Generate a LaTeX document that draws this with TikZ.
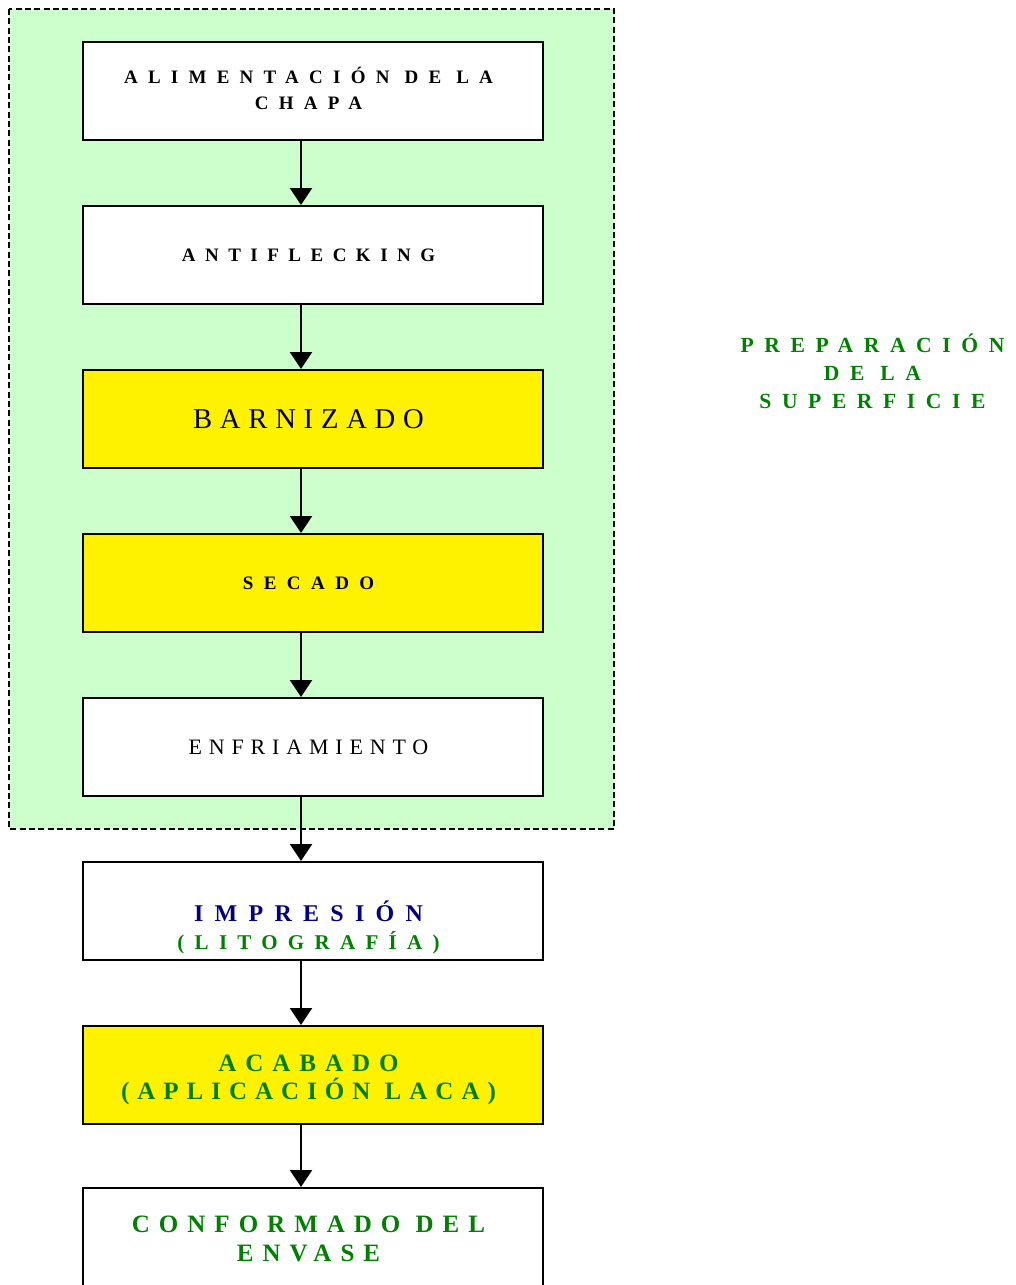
\documentclass[tikz,border=0pt]{standalone}
\usepackage{fontspec}
\setmainfont{Liberation Serif}
\usetikzlibrary{arrows.meta}

\definecolor{prepgreen}{RGB}{204,255,204}
\definecolor{textgreen}{RGB}{0,128,0}
\definecolor{textnavy}{RGB}{0,0,128}

% letter-spaced fonts: [baselineskip]{size}{spacing}
\newcommand{\spacedbf}[3][21pt]{\bfseries\fontsize{#2}{#1}\selectfont\addfontfeature{LetterSpace=#3}}
\newcommand{\spacedrm}[3][21pt]{\fontsize{#2}{#1}\selectfont\addfontfeature{LetterSpace=#3}}
\newcommand{\nudge}{\hspace*{-6.75pt}}

\tikzset{
  box/.style={draw, line width=1.5pt, fill=white, minimum width=345pt, minimum height=73.5pt, inner sep=0pt, align=center},
  yellowbox/.style={box, fill=yellow},
  boxtext/.style={align=center, inner sep=0pt},
  flow/.style={line width=1.5pt, -{Triangle[width=16.5pt,length=12.75pt]}},
}

\begin{document}
\begin{tikzpicture}[x=0.75pt, y=-0.75pt]

\fill[white] (0,0) rectangle (1015,1285);
\clip (0,0) rectangle (1015,1285);

% Preparation area
\draw[fill=prepgreen, line width=1.5pt, dash pattern=on 4.5pt off 2.5pt] (9,9) rectangle (614,829);

% Steps
\node[box] (alim) at (313,91) {};
\node[boxtext, font={\spacedbf[19.5pt]{14.25pt}{54}}] (alim-t) at (313,88.5)
  {\nudge ALIMENTACIÓN DE LA\\\nudge CHAPA};
\node[box, font={\spacedbf{14.25pt}{50}}] (anti) at (313,255) {\nudge ANTIFLECKING};
\node[yellowbox, font={\spacedrm{21.5pt}{27}}] (barn) at (313,419) {\nudge BARNIZADO};
\node[yellowbox, font={\spacedbf{14.25pt}{55}}] (seca) at (313,583) {\nudge SECADO};
\node[box, font={\spacedrm{16.5pt}{31}}] (enfr) at (313,747) {\nudge ENFRIAMIENTO};
\node[box] (impr) at (313,911) {};
\node[boxtext, font=\fontsize{18pt}{21pt}\selectfont] (impr-t) at (313,927)
  {\color{textnavy}\spacedbf{18pt}{47}\nudge IMPRESIÓN\\
   \color{textgreen}\spacedbf{15.75pt}{49}\nudge (LITOGRAFÍA)};
\node[yellowbox] (acab) at (313,1075) {};
\node[boxtext, text=textgreen, font=\fontsize{18.75pt}{21pt}\selectfont] (acab-t) at (313,1080)
  {\spacedbf{18.75pt}{36}\nudge ACABADO\\\spacedbf{18.75pt}{32}\nudge (APLICACIÓN LACA)};
\node[box] (conf) at (313,1237) {};
\node[boxtext, text=textgreen, font={\spacedbf[21.75pt]{18.75pt}{36}}] (conf-t) at (313,1239)
  {\nudge CONFORMADO DEL\\\nudge ENVASE};

% Side label
\node[align=center, text=textgreen, font={\spacedbf{16.2pt}{49}}] (prep) at (877,371)
  {\nudge PREPARACIÓN\\\nudge DE LA\\\nudge SUPERFICIE};

% Arrows
\coordinate (ax) at (301,0);
\draw[flow] (alim.south -| ax) -- (anti.north -| ax);
\draw[flow] (anti.south -| ax) -- (barn.north -| ax);
\draw[flow] (barn.south -| ax) -- (seca.north -| ax);
\draw[flow] (seca.south -| ax) -- (enfr.north -| ax);
\draw[flow] (enfr.south -| ax) -- (impr.north -| ax);
\draw[flow] (impr.south -| ax) -- (acab.north -| ax);
\draw[flow] (acab.south -| ax) -- (conf.north -| ax);

\end{tikzpicture}
\end{document}
